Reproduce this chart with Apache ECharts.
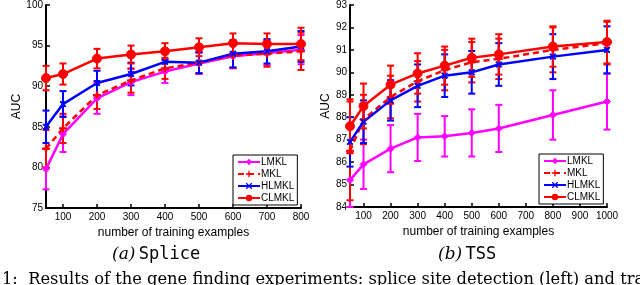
<!DOCTYPE html>
<html>
<head>
<meta charset="utf-8">
<script src="https://cdn.jsdelivr.net/npm/echarts@6/dist/echarts.min.js"></script>
<style>html,body{margin:0;padding:0;background:#fff}#c{width:640px;height:285px}</style>
</head>
<body>
<div id="c"></div>
<script>
// ---- Splice data ----
var xSplice = [50, 100, 200, 300, 400, 500, 600, 700, 800];
var lmklSplice = [79.8, 84.1, 88.5, 90.5, 91.8, 92.8, 93.7, 94.1, 94.5];
var lmklSpliceErr = [2.5, 2.2, 1.9, 1.6, 1.4, 1.3, 1.5, 1.5, 1.8];
var mklSplice = [82.3, 84.8, 88.9, 90.7, 92.2, 92.9, 93.8, 94.0, 94.3];
var mklSpliceErr = [2.3, 1.8, 1.7, 1.5, 1.3, 1.3, 1.5, 1.6, 2.3];
var hlmklSplice = [85.0, 87.8, 90.4, 91.5, 93.0, 92.9, 94.0, 94.3, 94.9];
var hlmklSpliceErr = [2.0, 1.6, 1.5, 1.4, 1.0, 1.3, 1.7, 1.5, 1.9];
var clmklSplice = [91.0, 91.5, 93.4, 93.9, 94.3, 94.8, 95.3, 95.2, 95.2];
var clmklSpliceErr = [1.5, 1.3, 1.2, 1.1, 1.0, 1.1, 1.2, 1.3, 2.0];
var xTicksSplice = [100, 200, 300, 400, 500, 600, 700, 800];

// ---- TSS data ----
var xTSS = [50, 100, 200, 300, 400, 500, 600, 800, 1000];
var lmklTSS = [85.2, 85.9, 86.6, 87.1, 87.15, 87.3, 87.5, 88.1, 88.7];
var lmklTSSErr = [1.2, 1.1, 1.05, 1.05, 0.9, 1.05, 1.05, 1.1, 1.25];
var mklTSS = [86.5, 87.9, 88.9, 89.6, 90.1, 90.45, 90.6, 91.0, 91.3];
var mklTSSErr = [2.2, 1.1, 0.95, 0.9, 0.9, 0.9, 0.9, 1.0, 0.95];
var hlmklTSS = [86.9, 87.8, 88.75, 89.4, 89.85, 90.0, 90.35, 90.7, 91.0];
var hlmklTSSErr = [1.1, 0.95, 0.9, 0.95, 0.95, 0.95, 0.95, 1.0, 1.05];
var clmklTSS = [87.6, 88.5, 89.45, 89.95, 90.3, 90.65, 90.8, 91.15, 91.35];
var clmklTSSErr = [1.2, 1.0, 0.85, 0.9, 0.85, 0.85, 0.9, 0.9, 0.95];
var xTicksTSS = [100, 200, 300, 400, 500, 600, 700, 800, 900, 1000];

var names = ['LMKL', 'MKL', 'HLMKL', 'CLMKL'];
var colors = {LMKL: '#ff00ff', MKL: '#ff0000', HLMKL: '#0000ff', CLMKL: '#ff0000'};

var captionText = '1:  Results of the gene finding experiments: splice site detection (left) and transcription start site detection (right).';

var plusPath = 'path://M4,0L6,0L6,4L10,4L10,6L6,6L6,10L4,10L4,6L0,6L0,4L4,4Z';
var xPath = 'path://M0,1.4L1.4,0L5,3.6L8.6,0L10,1.4L6.4,5L10,8.6L8.6,10L5,6.4L1.4,10L0,8.6L3.6,5Z';
var symbols = {LMKL: 'diamond', MKL: plusPath, HLMKL: xPath, CLMKL: 'circle'};
var symbolSizes = {LMKL: 7, MKL: 7, HLMKL: 6, CLMKL: 9};

function pairs(xs, ys) { return xs.map(function (x, i) { return [x, ys[i]]; }); }
function errs(xs, ys, es) { return xs.map(function (x, i) { return [x, ys[i] - es[i], ys[i] + es[i]]; }); }

function errSeries(name, idx, xs, ys, es) {
  var col = colors[name];
  return {
    type: 'custom', name: name + '_err', xAxisIndex: idx, yAxisIndex: idx,
    data: errs(xs, ys, es), encode: {x: 0, y: [1, 2]}, silent: true, z: 2,
    renderItem: function (params, api) {
      var lo = api.coord([api.value(0), api.value(1)]);
      var hi = api.coord([api.value(0), api.value(2)]);
      var w = 3.5;
      var st = {stroke: col, lineWidth: 2};
      return {type: 'group', children: [
        {type: 'line', shape: {x1: lo[0], y1: lo[1], x2: hi[0], y2: hi[1]}, style: st},
        {type: 'line', shape: {x1: lo[0] - w, y1: lo[1], x2: lo[0] + w, y2: lo[1]}, style: st},
        {type: 'line', shape: {x1: hi[0] - w, y1: hi[1], x2: hi[0] + w, y2: hi[1]}, style: st}
      ]};
    }
  };
}
function lineSeries(name, idx, xs, ys) {
  var col = colors[name];
  return {
    type: 'line', name: name, xAxisIndex: idx, yAxisIndex: idx,
    data: pairs(xs, ys), symbol: symbols[name], symbolSize: symbolSizes[name],
    showAllSymbol: true, z: 3, animation: false,
    itemStyle: {color: col, borderColor: col},
    lineStyle: {color: col, width: 2.5, type: name === 'MKL' ? [6, 4] : 'solid'}
  };
}

var series = [];
var setS = {LMKL: [lmklSplice, lmklSpliceErr], MKL: [mklSplice, mklSpliceErr], HLMKL: [hlmklSplice, hlmklSpliceErr], CLMKL: [clmklSplice, clmklSpliceErr]};
var setT = {LMKL: [lmklTSS, lmklTSSErr], MKL: [mklTSS, mklTSSErr], HLMKL: [hlmklTSS, hlmklTSSErr], CLMKL: [clmklTSS, clmklTSSErr]};
names.forEach(function (n) {
  series.push(errSeries(n, 0, xSplice, setS[n][0], setS[n][1]));
  series.push(lineSeries(n, 0, xSplice, setS[n][0]));
});
names.forEach(function (n) {
  series.push(errSeries(n, 1, xTSS, setT[n][0], setT[n][1]));
  series.push(lineSeries(n, 1, xTSS, setT[n][0]));
});

var tickFont = {fontFamily: 'Liberation Sans', fontSize: 10, color: '#000'};
function xAxis(idx, min, max, ticks) {
  return {
    type: 'value', gridIndex: idx, min: min, max: max,
    splitLine: {show: false},
    axisLine: {lineStyle: {color: '#000', width: 2}},
    axisTick: {inside: true, length: 4, customValues: ticks, lineStyle: {color: '#000', width: 1.5}},
    axisLabel: Object.assign({customValues: ticks, margin: 4, formatter: function (v) { return String(v); }}, tickFont),
    name: 'number of training examples', nameLocation: 'middle', nameGap: 16,
    nameTextStyle: {fontFamily: 'Liberation Sans', fontSize: 12, color: '#000'}
  };
}
function yAxis(idx, min, max, interval, gap) {
  return {
    type: 'value', gridIndex: idx, min: min, max: max, interval: interval,
    splitLine: {show: false},
    axisLine: {show: true, lineStyle: {color: '#000', width: 2}},
    axisTick: {show: true, inside: true, length: 4, lineStyle: {color: '#000', width: 1.5}},
    axisLabel: Object.assign({margin: 3}, tickFont),
    name: 'AUC', nameLocation: 'middle', nameGap: gap, nameRotate: 90,
    nameTextStyle: {fontFamily: 'Liberation Sans', fontSize: 12, color: '#000'}
  };
}
function legend(left, top) {
  return {
    data: names, orient: 'vertical', left: left, top: top,
    backgroundColor: '#fff', borderColor: '#000', borderWidth: 1,
    padding: [2, 3, 2, 4], itemGap: 2, itemWidth: 22, itemHeight: 8,
    textStyle: {fontFamily: 'Liberation Sans', fontSize: 10, color: '#000', padding: [0, 0, 0, -4]},
    selectedMode: false
  };
}

// size the caption so "Results ... and tra" spans about 615 px as in the reference
var capFont = 'DejaVu Serif';
var mctx = document.createElement('canvas').getContext('2d');
mctx.font = '20px "' + capFont + '"';
var wRef = mctx.measureText('Results of the gene finding experiments: splice site detection (left) and tra').width;
var capSize = Math.round(20 * 615 / wRef * 10) / 10;

var option = {
  animation: false,
  grid: [
    {left: 46, top: 5, width: 255, height: 203},
    {left: 350, top: 4, width: 257, height: 203}
  ],
  xAxis: [xAxis(0, 50, 800, xTicksSplice), xAxis(1, 50, 1000, xTicksTSS)],
  yAxis: [yAxis(0, 75, 100, 5, 21), yAxis(1, 84, 93, 1, 13)],
  legend: [legend(233, 155), legend(539, 154)],
  series: series,
  graphic: [
    {type: 'text', left: 112, top: 246, style: {
      text: '{i|(a)} {m|Splice}',
      rich: {i: {fontFamily: 'DejaVu Serif', fontStyle: 'italic', fontSize: 17, fill: '#000'},
             m: {fontFamily: 'DejaVu Sans Mono', fontSize: 17, fill: '#000'}}}},
    {type: 'text', left: 438, top: 246, style: {
      text: '{i|(b)} {m|TSS}',
      rich: {i: {fontFamily: 'DejaVu Serif', fontStyle: 'italic', fontSize: 17, fill: '#000'},
             m: {fontFamily: 'DejaVu Sans Mono', fontSize: 17, fill: '#000'}}}},
    {type: 'text', left: 2, top: 272, style: {
      text: captionText, fontFamily: capFont, fontSize: capSize, fill: '#000'}}
  ]
};
var chart = echarts.init(document.getElementById('c'), null, {renderer: 'canvas'});
chart.setOption(option);
</script>
</body>
</html>
